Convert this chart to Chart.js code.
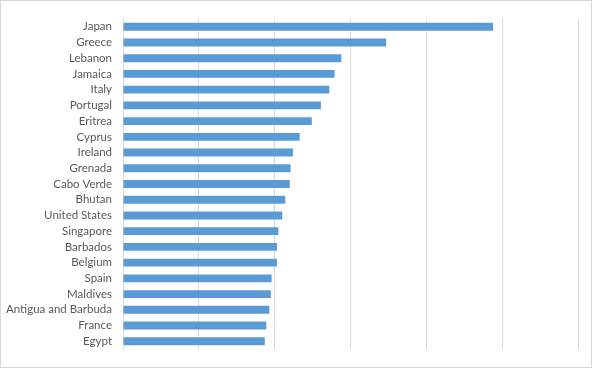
<!DOCTYPE html>
<html>
<head>
<meta charset="utf-8">
<script src="https://cdn.jsdelivr.net/npm/chart.js@4"></script>
<style>
    body { margin: 0; background: #fff; }
    #wrap { width: 592px; height: 368px; border: 1px solid #d9d9d9; box-sizing: border-box; }
</style>
</head>
<body>
<div id="wrap"><canvas id="myChart" width="590" height="366"></canvas></div>
<script>
    "use strict";

    // categories, top to bottom
    const countries = ['Japan', 'Greece', 'Lebanon', 'Jamaica', 'Italy', 'Portugal', 'Eritrea', 'Cyprus', 'Ireland', 'Grenada',
        'Cabo Verde', 'Bhutan', 'United States', 'Singapore', 'Barbados', 'Belgium', 'Spain', 'Maldives', 'Antigua and Barbuda', 'France', 'Egypt'];
    const values = [4.88, 3.47, 2.88, 2.79, 2.72, 2.61, 2.49, 2.33, 2.24, 2.21,
        2.20, 2.14, 2.10, 2.05, 2.03, 2.03, 1.96, 1.95, 1.93, 1.89, 1.87];
    const xTicks = [0, 1, 2, 3, 4, 5, 6];

    let ctx = document.getElementById('myChart').getContext('2d');

    let chart = new Chart(ctx, {
        type: 'bar',
        data: {
            labels: countries,
            datasets: [
                {
                    label: 'Value',
                    backgroundColor: '#5b9bd5',
                    borderWidth: 0,
                    categoryPercentage: 1,
                    barPercentage: 0.5,
                    data: values
                }
            ]
        },
        options: {
            indexAxis: 'y',
            responsive: false,
            animation: false,
            layout: {
                padding: { left: 0, right: 13, top: 14, bottom: 13 }
            },
            plugins: {
                legend: { display: false },
                tooltip: { enabled: false }
            },
            scales: {
                x: {
                    min: xTicks[0],
                    max: xTicks[xTicks.length - 1],
                    afterBuildTicks: function (scale) {
                        scale.ticks = xTicks.map(v => ({ value: v }));
                    },
                    afterFit: function (scale) { scale.height = 0; },
                    ticks: { display: false },
                    grid: { color: '#d9d9d9', lineWidth: 1, drawTicks: false },
                    border: { display: false }
                },
                y: {
                    afterFit: function (scale) { scale.width = 122; },
                    grid: { display: false, drawTicks: false },
                    border: { display: false },
                    ticks: {
                        color: '#595959',
                        padding: 11,
                        autoSkip: false,
                        font: { family: 'Lato', size: 11.5 }
                    }
                }
            }
        }
    });
</script>
</body>
</html>
